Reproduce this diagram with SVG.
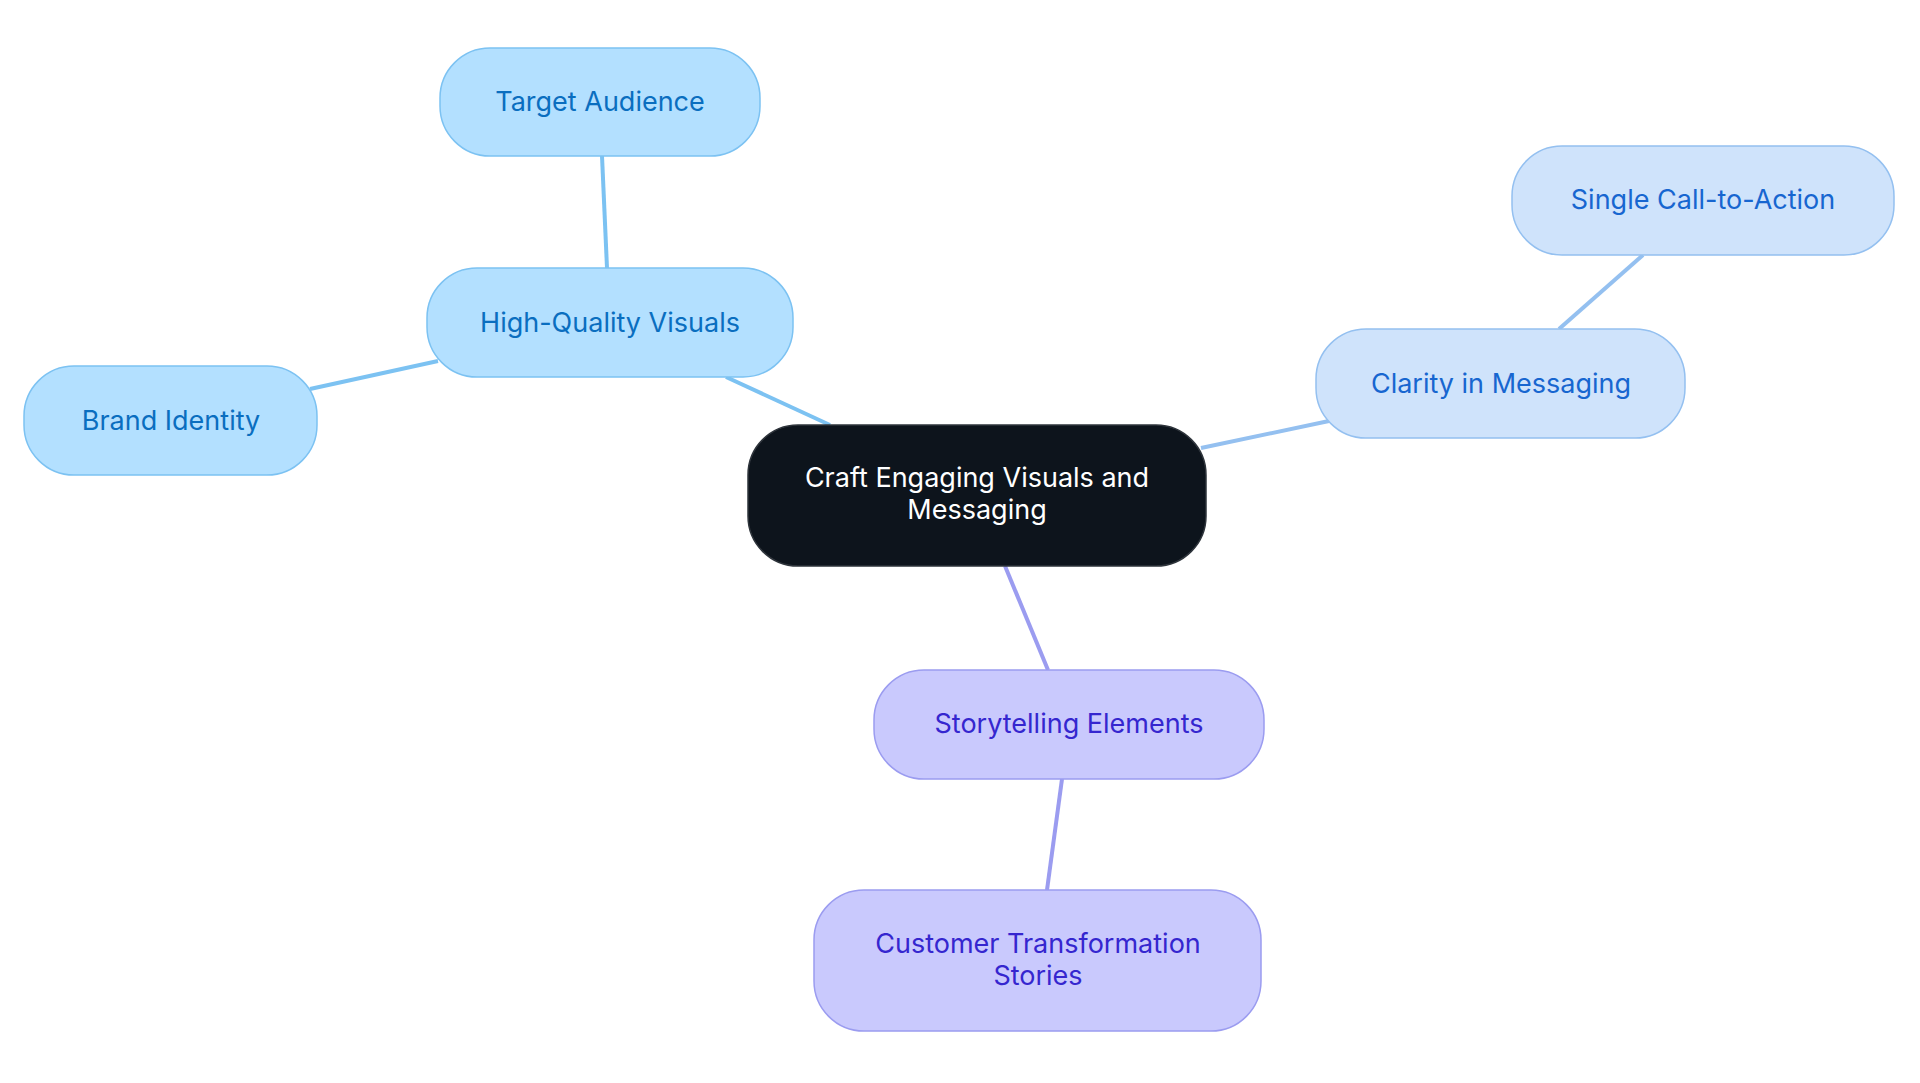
<svg xmlns="http://www.w3.org/2000/svg" width="1920" height="1083" viewBox="0 0 1920 1083">
<style>
text{font-family:Inter,"Noto Sans",sans-serif;font-size:27px;text-anchor:middle;dominant-baseline:central}
.b rect{fill:#b3e0ff;stroke:#7cc2f2;stroke-width:1.5}.b text{fill:#0a6ebf}
.c rect{fill:#cfe3fb;stroke:#94c0f0;stroke-width:1.5}.c text{fill:#1766d0}
.p rect{fill:#c9c9fd;stroke:#9b9cf0;stroke-width:1.5}.p text{fill:#3526cf}
.e line{stroke-width:4}
</style>
<rect width="1920" height="1083" fill="#fff"/>
<g id="connectors" class="e">
<line x1="726" y1="377" x2="830" y2="425" stroke="#7cc2f2"/>
<line x1="602" y1="156" x2="607" y2="268" stroke="#7cc2f2"/>
<line x1="438" y1="361" x2="310" y2="389" stroke="#7cc2f2"/>
<line x1="1201" y1="448" x2="1329" y2="421" stroke="#94c0f0"/>
<line x1="1559" y1="329" x2="1643" y2="255" stroke="#94c0f0"/>
<line x1="1005" y1="566" x2="1048" y2="670" stroke="#9b9cf0"/>
<line x1="1062" y1="779" x2="1047" y2="890" stroke="#9b9cf0"/>
</g>
<g id="center"><rect x="748" y="425" width="458" height="141" rx="50" fill="#0d141c" stroke="#2e343b" stroke-width="1.5"/>
<text x="977" y="477" fill="#fff">Craft Engaging Visuals and</text><text x="977" y="509" fill="#fff">Messaging</text></g>
<g id="hq" class="b"><rect x="427" y="268" width="366" height="109" rx="50"/><text x="610" y="322">High-Quality Visuals</text></g>
<g id="target" class="b"><rect x="440" y="48" width="320" height="108" rx="50"/><text x="600" y="101">Target Audience</text></g>
<g id="brand" class="b"><rect x="24" y="366" width="293" height="109" rx="50"/><text x="171" y="420">Brand Identity</text></g>
<g id="clarity" class="c"><rect x="1316" y="329" width="369" height="109" rx="50"/><text x="1501" y="383">Clarity in Messaging</text></g>
<g id="cta" class="c"><rect x="1512" y="146" width="382" height="109" rx="50"/><text x="1703" y="199">Single Call-to-Action</text></g>
<g id="story" class="p"><rect x="874" y="670" width="390" height="109" rx="50"/><text x="1069" y="723">Storytelling Elements</text></g>
<g id="customer" class="p"><rect x="814" y="890" width="447" height="141" rx="50"/><text x="1038" y="943">Customer Transformation</text><text x="1038" y="975">Stories</text></g>
</svg>
